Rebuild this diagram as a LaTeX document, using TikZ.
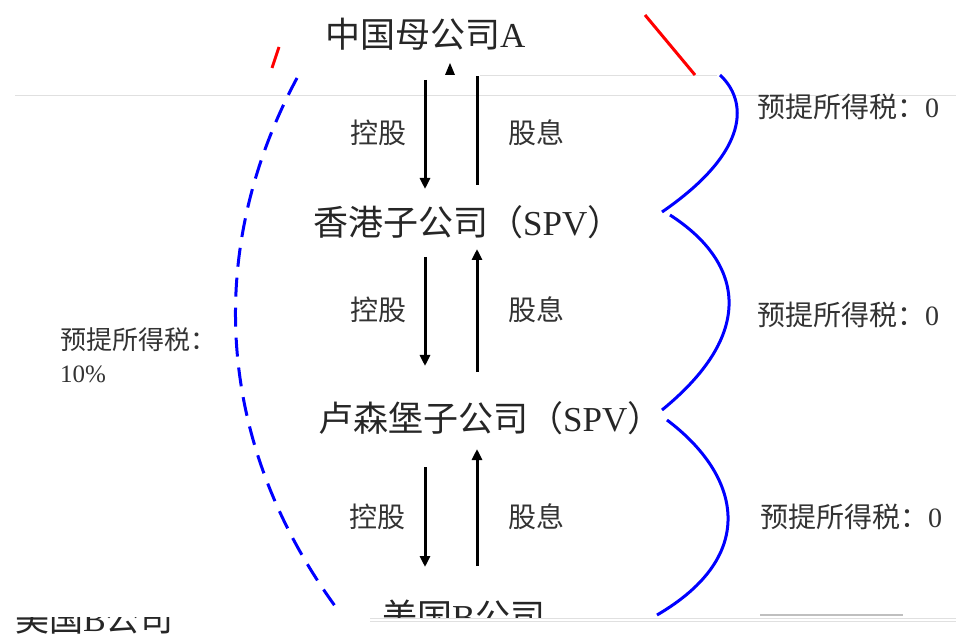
\documentclass[tikz,border=0pt]{standalone}
\usepackage{fontspec}
\setmainfont{Liberation Serif}
\newfontfamily\cjk{Noto Sans CJK SC}
\usetikzlibrary{arrows.meta}
\begin{document}
\begin{tikzpicture}[x=1pt,y=-1pt,
  main/.style={anchor=west,inner sep=0pt,font=\fontsize{35}{35}\selectfont,text=black!85},
  lbl/.style={inner sep=0pt,font=\fontsize{28}{28}\selectfont,text=black!80},
  taxl/.style={anchor=west,inner sep=0pt,font=\fontsize{28}{28}\selectfont,text=black!80},
  flowdown/.style={line width=3pt,-{Triangle[length=11pt,width=10pt]}},
  flowline/.style={line width=3pt},
  brace/.style={draw=blue,line width=3pt},
  leftcurve/.style={draw=blue,line width=3pt,dash pattern=on 19pt off 11pt},
  redmark/.style={draw=red,line width=3pt},
  faint/.style={draw=black!12,line width=1pt}
]
\useasboundingbox (0,0) rectangle (956,636);
\fill[white] (0,0) rectangle (956,636);

% faint artefact lines
\draw[faint] (15,96) -- (956,96);
\draw[faint] (480,76) -- (717,76);
\draw[faint] (370,618) -- (956,618);
\draw[faint] (370,621) -- (956,621);
\draw[draw=black!25,line width=1.5pt] (760,615) -- (903,615);

% company nodes
\node[main] (A) at (325,34) {{\cjk 中国母公司}A};
\node[main] (HK) at (313,222) {{\cjk 香港子公司（}SPV{\cjk ）}};
\node[main] (LU) at (318,418) {{\cjk 卢森堡子公司（}SPV{\cjk ）}};
\begin{scope}
  \clip (370,585) rectangle (560,617);
  \node[main] (US) at (382,616) {{\cjk 美国}B{\cjk 公司}};
\end{scope}
\begin{scope}
  \clip (0,617) rectangle (200,634);
  \node[main,font=\fontsize{34}{34}\selectfont] (USb) at (15,619) {{\cjk 美国}B{\cjk 公司}};
\end{scope}

% arrows pair 1
\coordinate (d1s) at (425,80);  \coordinate (d1e) at (425,189);
\coordinate (u1s) at (477,185); \coordinate (u1e) at (477,76);
\draw[flowdown] (d1s) -- (d1e);
\draw[flowline] (u1s) -- (u1e);
\fill (445,75) -- (450,63) -- (455,75) -- cycle;
% arrows pair 2
\coordinate (d2s) at (425,257); \coordinate (d2e) at (425,366);
\coordinate (u2s) at (477,372); \coordinate (u2e) at (477,249);
\draw[flowdown] (d2s) -- (d2e);
\draw[flowdown] (u2s) -- (u2e);
% arrows pair 3
\coordinate (d3s) at (425,467); \coordinate (d3e) at (425,567);
\coordinate (u3s) at (477,566); \coordinate (u3e) at (477,449);
\draw[flowdown] (d3s) -- (d3e);
\draw[flowdown] (u3s) -- (u3e);

% arrow labels
\node[lbl] (k1) at (378,133) {\cjk 控股};
\node[lbl] (g1) at (536,133) {\cjk 股息};
\node[lbl] (k2) at (378,310) {\cjk 控股};
\node[lbl] (g2) at (536,310) {\cjk 股息};
\node[lbl] (k3) at (377,517) {\cjk 控股};
\node[lbl] (g3) at (536,517) {\cjk 股息};

% right braces
\draw[brace] (720,75) .. controls (747,100) and (752,150) .. (662,212);
\draw[brace] (670,215) .. controls (740,260) and (760,330) .. (662,410);
\draw[brace] (667,420) .. controls (740,475) and (760,555) .. (657,615);

% right labels
\node[taxl] (t1) at (757,107) {{\cjk 预提所得税：}0};
\node[taxl] (t2) at (757,315) {{\cjk 预提所得税：}0};
\node[taxl] (t3) at (760,517) {{\cjk 预提所得税：}0};

% left dashed curve and label
\draw[leftcurve] (297,78) .. controls (205,250) and (215,440) .. (335,606);
\node[taxl,font=\fontsize{26}{26}\selectfont] (tl) at (60,340) {\cjk 预提所得税：};
\node[taxl,font=\fontsize{25}{25}\selectfont] (tl2) at (60,374) {10\%};

% red marks
\draw[redmark] (645,15) -- (695,75);
\draw[redmark] (272,68) -- (279,47);
\end{tikzpicture}
\end{document}
